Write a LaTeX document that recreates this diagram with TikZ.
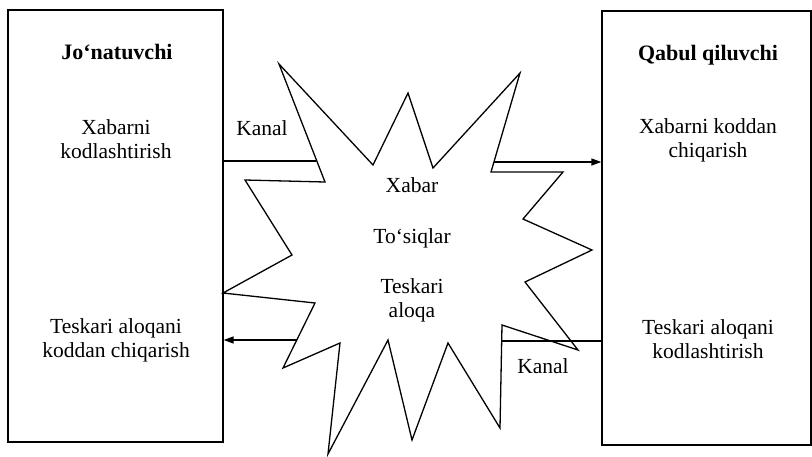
\documentclass[tikz,border=0pt]{standalone}
\usepackage{fontspec}
\setmainfont{Liberation Serif}
\usetikzlibrary{arrows.meta, positioning}

\begin{document}
\begin{tikzpicture}[x=1pt, y=-1pt, line width=1.3pt,
                    every node/.style={font=\fontsize{21.5}{24}\selectfont, align=center, inner sep=0pt},
                    party/.style={draw, minimum width=215pt, minimum height=432pt},
                    head/.style={font=\fontsize{22}{24}\selectfont\bfseries, anchor=base},
                    word/.style={anchor=base},
                    wire/.style={-{Triangle[length=10pt, width=7pt]}}]
                    \useasboundingbox (0,0) rectangle (812,456);
                    \node[party](sender) at (115.5,226){};
                    \node[party, minimum width=209pt, minimum height=434pt](receiver) at (706.5,228){};

                    \node[head](sendtitle) at (117,59){Jo‘natuvchi};
                    \node(encode) at (116,139){Xabarni\\kodlashtirish};
                    \node(fbdecode) at (116,340){Teskari aloqani\\koddan chiqarish};

                    \node[head](recvtitle) at (708,60){Qabul qiluvchi};
                    \node(decode) at (708,140.5){Xabarni koddan\\chiqarish};
                    \node(fbencode) at (708,339){Teskari aloqani\\kodlashtirish};

                    \draw[line join=miter] (279,64) -- (373,165) -- (408,93) -- (433,168) -- (520,73) -- (491,172)
                        -- (563,172) -- (523,219) -- (592,250) -- (525,282) -- (578,350) -- (502,325)
                        -- (500,428) -- (448,343) -- (412,440) -- (388,340) -- (328,454) -- (340,343)
                        -- (283,368) -- (315,303) -- (223,293) -- (292,255) -- (245,180) -- (325,182) -- cycle;
                    \node[word](message) at (412,192){Xabar};
                    \node[word](noise) at (412,243){To‘siqlar};
                    \node(feedback) at (412,300){Teskari\\aloqa};

                    \coordinate(chanin) at (316,161);
                    \coordinate(msgout) at (494,162);
                    \coordinate(fbin) at (501,341);
                    \coordinate(fbout) at (297,340);
                    \node[word](chantop) at (262,135){Kanal};
                    \node[word](chanbot) at (543,373){Kanal};
                    \draw[-] (sender.east |- chanin) -- (chanin);
                    \draw[wire] (msgout) -- (receiver.west |- msgout);
                    \draw[-] (receiver.west |- fbin) -- (fbin);
                    \draw[wire] (fbout) -- (sender.east |- fbout);
                \end{tikzpicture}
\end{document}
